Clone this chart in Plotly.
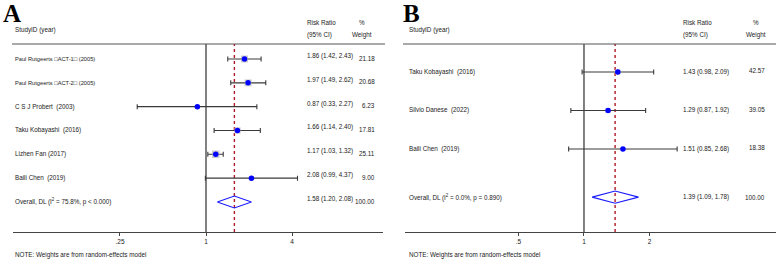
import plotly.graph_objects as go

# ---------------- data ----------------
A_studies = ["Paul Rutgeerts □ACT-1□ (2005)", "Paul Rutgeerts □ACT-2□ (2005)",
             "C S J Probert  (2003)", "Taku Kobayashi  (2016)",
             "Lizhen Fan (2017)", "Baili Chen  (2019)"]
A_rr = [1.86, 1.97, 0.87, 1.66, 1.17, 2.08]
A_lo = [1.42, 1.49, 0.33, 1.14, 1.03, 0.99]
A_hi = [2.43, 2.62, 2.27, 2.40, 1.32, 4.37]
A_w = [21.18, 20.68, 6.23, 17.81, 25.11, 9.00]
A_overall = [1.58, 1.20, 2.08]
A_overall_w = 100.00
A_overall_label = "Overall, DL (I<sup>2</sup> = 75.8%, p &lt; 0.000)"
A_ticks = [0.25, 1, 4]
A_ticktext = [".25", "1", "4"]

B_studies = ["Taku Kobayashi  (2016)", "Silvio Danese  (2022)", "Baili Chen  (2019)"]
B_rr = [1.43, 1.29, 1.51]
B_lo = [0.98, 0.87, 0.85]
B_hi = [2.09, 1.92, 2.68]
B_w = [42.57, 39.05, 18.38]
B_overall = [1.39, 1.09, 1.78]
B_overall_w = 100.00
B_overall_label = "Overall, DL (I<sup>2</sup> = 0.0%, p = 0.890)"
B_ticks = [0.5, 1, 2]
B_ticktext = [".5", "1", "2"]

W, H = 777, 269
FONT = "Liberation Sans, Arial, sans-serif"
TXT = "#222222"


def px(xp):
    return xp / W


def py(yp):
    return 1 - yp / H


fig = go.Figure()
annotations = []
shapes = []


def panel(idx, letter, studies, rr, lo, hi, w, overall, overall_w, overall_label,
          ticks, ticktext, cfg):
    xa = "x" if idx == 1 else "x2"
    ya = "y" if idx == 1 else "y2"
    rows = list(range(1, len(studies) + 1))
    orow = cfg["overall_row"]

    # CI lines + weight boxes
    fig.add_trace(go.Scatter(
        x=rr, y=rows, xaxis=xa, yaxis=ya, mode="markers",
        marker=dict(symbol="square", color="#b4b4b4",
                    size=[cfg["box_k"] * (v ** 0.5) for v in w], line=dict(width=0)),
        error_x=dict(type="data", symmetric=False,
                     array=[h - r for h, r in zip(hi, rr)],
                     arrayminus=[r - l for r, l in zip(rr, lo)],
                     color="#3a3a3a", thickness=1.1, width=2.5),
        hoverinfo="skip", showlegend=False))
    # point estimates
    fig.add_trace(go.Scatter(
        x=rr, y=rows, xaxis=xa, yaxis=ya, mode="markers",
        marker=dict(symbol="circle", color="#0000ff", size=5.5, line=dict(width=0)),
        hoverinfo="skip", showlegend=False))
    # overall diamond
    e, l, h = overall
    dh = cfg["dh"]
    fig.add_trace(go.Scatter(
        x=[l, e, h, e, l], y=[orow, orow - dh, orow, orow + dh, orow],
        xaxis=xa, yaxis=ya, mode="lines", line=dict(color="#1a1aff", width=1.1),
        hoverinfo="skip", showlegend=False))

    # null line and overall line
    for xv, col, dash, wd in [(1, "#1a1a1a", "solid", 1.1), (e, "#b01828", "dot", 1.4)]:
        shapes.append(dict(type="line", xref=xa, yref="paper", x0=xv, x1=xv,
                           y0=py(232), y1=py(44),
                           line=dict(color=col, width=wd, dash=dash), layer="below"))
    # separator line
    shapes.append(dict(type="line", xref="paper", yref="paper",
                       x0=px(cfg["sep"][0]), x1=px(cfg["sep"][1]), y0=py(44), y1=py(44),
                       line=dict(color="#555555", width=1)))

    def ann(text, x, y, yref="paper", size=6.3, xanchor="left", yshift=0):
        annotations.append(dict(text=text, x=x, y=y, xref="paper", yref=yref,
                                xanchor=xanchor, yanchor="middle", showarrow=False,
                                yshift=yshift,
                                font=dict(family=FONT, size=size, color=TXT)))

    # letter
    annotations.append(dict(text="<b>%s</b>" % letter, x=px(cfg["letter_x"]), y=py(13),
                            xref="paper", yref="paper", xanchor="left", yanchor="middle",
                            showarrow=False,
                            font=dict(family="Liberation Serif, Times New Roman, serif",
                                      size=25, color="#000000")))
    # headers
    ann("StudyID (year)", px(cfg["label_x"]), py(30))
    ann("Risk Ratio", px(cfg["ci_x"]), py(22))
    ann("(95% CI)", px(cfg["ci_x"]), py(35))
    ann("%", px(cfg["pct_x"]), py(22), xanchor="center")
    ann("Weight", px(cfg["pct_x"]), py(35), xanchor="center")

    # rows
    for i, s in enumerate(studies):
        size = 5.7 if "□" in s else 6.3
        ann(s, px(cfg["label_x"]), rows[i], yref=ya, size=size)
        ann("%.2f (%.2f, %.2f)" % (rr[i], lo[i], hi[i]), px(cfg["ci_x"]), rows[i],
            yref=ya, yshift=cfg["ci_shift"])
        ann("%.2f" % w[i], px(cfg["w_x"]), rows[i], yref=ya, xanchor="right",
            yshift=cfg["w_shift"])
    ann(overall_label, px(cfg["label_x"]), orow, yref=ya)
    ann("%.2f (%.2f, %.2f)" % (e, l, h), px(cfg["ci_x"]), orow, yref=ya,
        yshift=cfg["ci_shift"])
    ann("%.2f" % overall_w, px(cfg["w_x"]), orow, yref=ya, xanchor="right",
        yshift=cfg["w_shift"] - 1)
    ann("NOTE: Weights are from random-effects model", px(cfg["label_x"]), py(255))


cfgA = dict(overall_row=7, dh=0.25, box_k=1.5, sep=(12, 385), letter_x=1,
            label_x=13, ci_x=305, pct_x=362, w_x=377, ci_shift=3, w_shift=1)
cfgB = dict(overall_row=4.25, dh=0.16, box_k=0.8, sep=(403, 776), letter_x=401,
            label_x=407, ci_x=681, pct_x=756, w_x=767, ci_shift=0, w_shift=1)

panel(1, "A", A_studies, A_rr, A_lo, A_hi, A_w, A_overall, A_overall_w, A_overall_label,
      A_ticks, A_ticktext, cfgA)
panel(2, "B", B_studies, B_rr, B_lo, B_hi, B_w, B_overall, B_overall_w, B_overall_label,
      B_ticks, B_ticktext, cfgB)

ydom = [1 - 232 / H, 1]
axis_common = dict(type="log", showgrid=False, zeroline=False, showline=True,
                   linecolor="#444444", linewidth=1, ticks="outside", ticklen=3,
                   tickcolor="#444444", tickfont=dict(family=FONT, size=6.5, color=TXT),
                   fixedrange=True)

fig.update_layout(
    width=W, height=H, autosize=False,
    margin=dict(l=0, r=0, t=0, b=0),
    paper_bgcolor="white", plot_bgcolor="rgba(0,0,0,0)",
    hovermode=False,
    xaxis=dict(domain=[13 / W, 383 / W], range=[-1.351, 1.239],
               tickvals=A_ticks, ticktext=A_ticktext, anchor="y", **axis_common),
    yaxis=dict(domain=ydom, range=[8.26, -1.476], visible=False, anchor="x",
               fixedrange=True),
    xaxis2=dict(domain=[405 / W, 776 / W], range=[-0.8226, 0.8824],
                tickvals=B_ticks, ticktext=B_ticktext, anchor="y2", **axis_common),
    yaxis2=dict(domain=ydom, range=[5.156, -0.870], visible=False, anchor="x2",
                fixedrange=True),
    annotations=annotations, shapes=shapes, showlegend=False,
)

fig.write_html("out.html",
               config={"displayModeBar": False, "staticPlot": True},
               post_script="document.body.style.margin='0';"
                           "document.body.style.padding='0';"
                           "document.body.style.overflow='hidden';")
